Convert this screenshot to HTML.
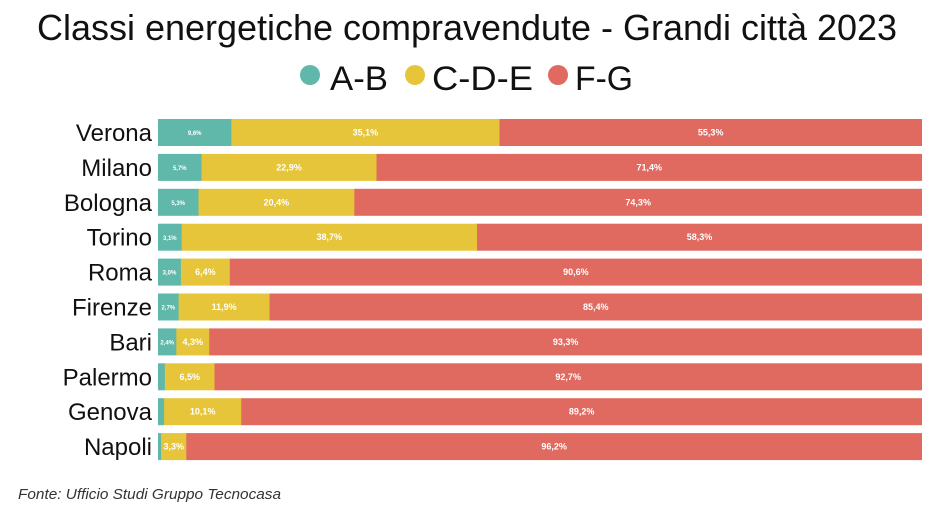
<!DOCTYPE html>
<html><head><meta charset="utf-8"><style>html,body{margin:0;padding:0;background:#fff}svg{display:block}</style></head>
<body>
<svg width="935" height="525" xmlns="http://www.w3.org/2000/svg" font-family="Liberation Sans, sans-serif">
<text x="37" y="40" font-size="36" fill="#111" textLength="860" lengthAdjust="spacingAndGlyphs">Classi energetiche compravendute - Grandi città 2023</text>
<circle cx="310" cy="75" r="10" fill="#5fb8aa"/>
<text x="330" y="90" font-size="34" fill="#111" textLength="58" lengthAdjust="spacingAndGlyphs">A-B</text>
<circle cx="415" cy="75" r="10" fill="#e6c53a"/>
<text x="432" y="90" font-size="34" fill="#111" textLength="101" lengthAdjust="spacingAndGlyphs">C-D-E</text>
<circle cx="558" cy="75" r="10" fill="#e06a60"/>
<text x="575" y="90" font-size="34" fill="#111" textLength="58" lengthAdjust="spacingAndGlyphs">F-G</text>

<g font-size="24" text-anchor="end" fill="#111">
<text x="152" y="141">Verona</text>
<text x="152" y="175.9">Milano</text>
<text x="152" y="210.8">Bologna</text>
<text x="152" y="245.7">Torino</text>
<text x="152" y="280.6">Roma</text>
<text x="152" y="315.5">Firenze</text>
<text x="152" y="350.4">Bari</text>
<text x="152" y="385.3">Palermo</text>
<text x="152" y="420.2">Genova</text>
<text x="152" y="455.1">Napoli</text>
</g>

<g>
<rect x="158" y="119" width="73.8" height="27" fill="#5fb8aa"/><rect x="231.34" y="119" width="268.6" height="27" fill="#e6c53a"/><rect x="499.5" y="119" width="422.5" height="27" fill="#e06a60"/>
<rect x="158" y="153.9" width="44" height="27" fill="#5fb8aa"/><rect x="201.55" y="153.9" width="175.4" height="27" fill="#e6c53a"/><rect x="376.5" y="153.9" width="545.5" height="27" fill="#e06a60"/>
<rect x="158" y="188.8" width="41" height="27" fill="#5fb8aa"/><rect x="198.49" y="188.8" width="156.3" height="27" fill="#e6c53a"/><rect x="354.35" y="188.8" width="567.65" height="27" fill="#e06a60"/>
<rect x="158" y="223.7" width="24.1" height="27" fill="#5fb8aa"/><rect x="181.66" y="223.7" width="295.8" height="27" fill="#e6c53a"/><rect x="477.03" y="223.7" width="444.97" height="27" fill="#e06a60"/>
<rect x="158" y="258.6" width="23.4" height="27" fill="#5fb8aa"/><rect x="180.92" y="258.6" width="49.4" height="27" fill="#e6c53a"/><rect x="229.82" y="258.6" width="692.18" height="27" fill="#e06a60"/>
<rect x="158" y="293.5" width="21.1" height="27" fill="#5fb8aa"/><rect x="178.63" y="293.5" width="91.4" height="27" fill="#e6c53a"/><rect x="269.55" y="293.5" width="652.45" height="27" fill="#e06a60"/>
<rect x="158" y="328.4" width="18.8" height="27" fill="#5fb8aa"/><rect x="176.34" y="328.4" width="33.3" height="27" fill="#e6c53a"/><rect x="209.19" y="328.4" width="712.81" height="27" fill="#e06a60"/>
<rect x="158" y="363.3" width="7.3" height="27" fill="#5fb8aa"/><rect x="164.87" y="363.3" width="50.1" height="27" fill="#e6c53a"/><rect x="214.48" y="363.3" width="707.52" height="27" fill="#e06a60"/>
<rect x="158" y="398.2" width="6.6" height="27" fill="#5fb8aa"/><rect x="164.11" y="398.2" width="77.5" height="27" fill="#e6c53a"/><rect x="241.19" y="398.2" width="680.81" height="27" fill="#e06a60"/>
<rect x="158" y="433.1" width="3.5" height="27" fill="#5fb8aa"/><rect x="161.06" y="433.1" width="25.7" height="27" fill="#e6c53a"/><rect x="186.27" y="433.1" width="735.73" height="27" fill="#e06a60"/>
</g>

<g font-size="6" font-weight="bold" text-anchor="middle" fill="#fff">
<text x="194.7" y="135">9,6%</text>
<text x="179.8" y="170">5,7%</text>
<text x="178.2" y="205">5,3%</text>
<text x="169.8" y="240">3,1%</text>
<text x="169.5" y="274.6">3,0%</text>
<text x="168.3" y="309.5">2,7%</text>
<text x="167.2" y="344.4">2,4%</text>
</g>
<g font-size="9" font-weight="bold" text-anchor="middle" fill="#fff">
<text x="365.4" y="135.5">35,1%</text><text x="710.7" y="135.5">55,3%</text>
<text x="289" y="170.4">22,9%</text><text x="649.3" y="170.4">71,4%</text>
<text x="276.4" y="205.3">20,4%</text><text x="638.2" y="205.3">74,3%</text>
<text x="329.3" y="240.2">38,7%</text><text x="699.5" y="240.2">58,3%</text>
<text x="205.4" y="275.1">6,4%</text><text x="575.9" y="275.1">90,6%</text>
<text x="224.1" y="310">11,9%</text><text x="595.8" y="310">85,4%</text>
<text x="192.8" y="344.9">4,3%</text><text x="565.6" y="344.9">93,3%</text>
<text x="189.7" y="379.8">6,5%</text><text x="568.2" y="379.8">92,7%</text>
<text x="202.7" y="414.7">10,1%</text><text x="581.6" y="414.7">89,2%</text>
<text x="173.7" y="449.6">3,3%</text><text x="554.1" y="449.6">96,2%</text>
</g>

<text x="18" y="499" font-size="15" font-style="italic" fill="#333" textLength="263" lengthAdjust="spacingAndGlyphs">Fonte: Ufficio Studi Gruppo Tecnocasa</text>
</svg>
</body></html>
